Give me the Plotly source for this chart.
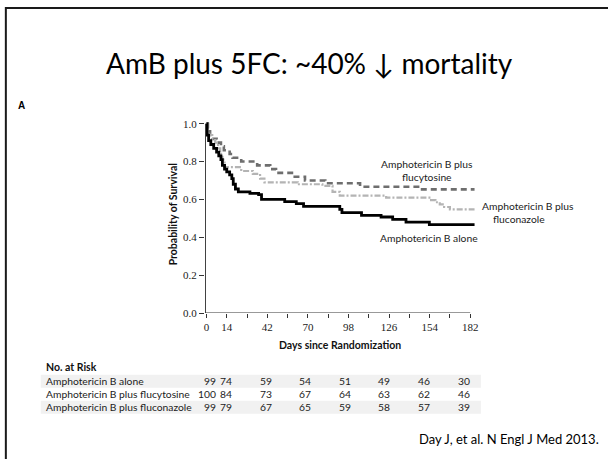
import plotly.graph_objects as go

# ---------------- data ----------------
series_names = ["Amphotericin B alone", "Amphotericin B plus flucytosine", "Amphotericin B plus fluconazole"]

days_alone = [0, 0.5, 1.5, 3, 5, 7, 8.5, 10, 11, 12.5, 14, 16, 17.5, 18.5, 20, 22, 30, 36, 38, 54, 62, 67,
              92, 93.5, 107, 120.5, 128.5, 137.7, 153.8, 185]
surv_alone = [1.0, 0.94, 0.91, 0.89, 0.87, 0.85, 0.83, 0.81, 0.78, 0.76, 0.745, 0.73, 0.71, 0.68, 0.655, 0.64,
              0.632, 0.625, 0.60, 0.588, 0.578, 0.563, 0.547, 0.53, 0.516, 0.507, 0.495, 0.48, 0.467, 0.467]

days_5fc = [0, 1, 2.5, 4, 7, 10, 12, 16, 18, 24, 35, 44, 48, 60, 68, 82, 106, 147, 185]
surv_5fc = [1.0, 0.96, 0.94, 0.92, 0.90, 0.88, 0.86, 0.84, 0.82, 0.80, 0.78, 0.76, 0.74, 0.72, 0.70, 0.685,
            0.667, 0.653, 0.653]

days_flu = [0, 1, 2, 4, 6, 8, 9.5, 11, 12.5, 24, 32, 37, 40, 63, 80, 87, 92, 124, 155, 158, 161, 164, 168, 185]
surv_flu = [1.0, 0.96, 0.94, 0.92, 0.90, 0.87, 0.84, 0.81, 0.77, 0.75, 0.735, 0.71, 0.69, 0.68, 0.672, 0.64,
            0.62, 0.609, 0.596, 0.585, 0.574, 0.56, 0.547, 0.547]

x_tick_vals = [0, 14, 28, 42, 56, 70, 84, 98, 112, 126, 140, 154, 168, 182]
x_tick_text = ["0", "14", "", "42", "", "70", "", "98", "", "126", "", "154", "", "182"]
y_tick_vals = [0.0, 0.2, 0.4, 0.6, 0.8, 1.0]
y_tick_text = ["0.0", "0.2", "0.4", "0.6", "0.8", "1.0"]

risk_days = [0, 14, 42, 70, 98, 126, 154, 182]
risk_alone = [99, 74, 59, 54, 51, 49, 46, 30]
risk_5fc = [100, 84, 73, 67, 64, 63, 62, 46]
risk_flu = [99, 79, 67, 65, 59, 58, 57, 39]

title_text = "AmB plus 5FC: ~40% \u2193 mortality"
citation = "Day J, et al. N Engl J Med 2013."

# ---------------- geometry helpers ----------------
FIG_W, FIG_H = 608, 459
L, T = 204.55, 117.8
W, H = 271.55, 195.7
R = FIG_W - L - W
B = FIG_H - T - H


def px(x):
    return (x - L) / W


def py(y):
    return 1 - (y - T) / H


NARROW = "Lato, sans-serif"
SERIF = "Liberation Serif, Times New Roman, serif"
SLIDE = "Lato, Carlito, Calibri, sans-serif"
SMALL = 10.3

fig = go.Figure()

fig.add_trace(go.Scatter(x=days_5fc, y=surv_5fc, mode="lines", line_shape="hv",
                         line=dict(color="#6e6e6e", width=2.6, dash="6px,4px"),
                         name=series_names[1], showlegend=False))
fig.add_trace(go.Scatter(x=days_flu, y=surv_flu, mode="lines", line_shape="hv",
                         line=dict(color="#b4b4b4", width=2.2, dash="6px,2px,2px,2px"),
                         name=series_names[2], showlegend=False))
fig.add_trace(go.Scatter(x=days_alone, y=surv_alone, mode="lines", line_shape="hv",
                         line=dict(color="#000000", width=2.8),
                         name=series_names[0], showlegend=False))

shapes = []
# slide frame (top and left)
shapes.append(dict(type="line", xref="paper", yref="paper", x0=px(5), x1=px(610), y0=py(7.5), y1=py(7.5),
                   line=dict(color="#1a1a1a", width=2)))
shapes.append(dict(type="line", xref="paper", yref="paper", x0=px(5), x1=px(5), y0=py(6.5), y1=py(462),
                   line=dict(color="#1a1a1a", width=2)))
# axis lines
shapes.append(dict(type="line", xref="x", yref="y", x0=-0.7, x1=-0.7, y0=0, y1=1.0,
                   line=dict(color="#333333", width=1)))
shapes.append(dict(type="line", xref="x", yref="y", x0=-0.7, x1=182, y0=0, y1=0,
                   line=dict(color="#333333", width=1)))
# table row bands
for yc in (382, 408):
    shapes.append(dict(type="rect", xref="paper", yref="paper", x0=px(40), x1=px(481),
                       y0=py(yc - 6.5), y1=py(yc + 6.5), fillcolor="#f1f1f1", line=dict(width=0),
                       layer="below"))

ann = []
ann.append(dict(text=title_text, xref="paper", yref="paper", x=px(309), y=py(62.5), showarrow=False,
                xanchor="center", yanchor="middle", font=dict(family=SLIDE, size=28, color="#000")))
ann.append(dict(text="<b>A</b>", xref="paper", yref="paper", x=px(15), y=py(105), showarrow=False,
                xanchor="left", yanchor="middle", font=dict(family="Liberation Sans, Arial", size=10, color="#000")))
ann.append(dict(text="<b>Probability of Survival</b>", xref="paper", yref="paper", x=px(172), y=py(215),
                showarrow=False, textangle=-90, xanchor="center", yanchor="middle",
                font=dict(family=NARROW, size=10.5, color="#111")))
ann.append(dict(text="<b>Days since Randomization</b>", xref="paper", yref="paper", x=px(340), y=py(346),
                showarrow=False, xanchor="center", yanchor="middle",
                font=dict(family=NARROW, size=10.5, color="#111")))
# curve labels
ann.append(dict(text="Amphotericin B plus<br>flucytosine", xref="paper", yref="paper", x=px(427), y=py(170.5),
                showarrow=False, xanchor="center", yanchor="middle", align="center",
                font=dict(family=NARROW, size=SMALL, color="#222")))
ann.append(dict(text="Amphotericin B plus", xref="paper", yref="paper", x=px(480), y=py(206),
                showarrow=False, xanchor="left", yanchor="middle",
                font=dict(family=NARROW, size=SMALL, color="#222")))
ann.append(dict(text="fluconazole", xref="paper", yref="paper", x=px(491), y=py(219),
                showarrow=False, xanchor="left", yanchor="middle",
                font=dict(family=NARROW, size=SMALL, color="#222")))
ann.append(dict(text="Amphotericin B alone", xref="paper", yref="paper", x=px(429), y=py(238),
                showarrow=False, xanchor="center", yanchor="middle",
                font=dict(family=NARROW, size=SMALL, color="#222")))
# at-risk table
ann.append(dict(text="<b>No. at Risk</b>", xref="paper", yref="paper", x=px(43), y=py(368), showarrow=False,
                xanchor="left", yanchor="middle", font=dict(family=NARROW, size=10.5, color="#111")))
row_ys = [382, 395, 408]
for name, counts, yc in zip(series_names, [risk_alone, risk_5fc, risk_flu], row_ys):
    ann.append(dict(text=name, xref="paper", yref="paper", x=px(43), y=py(yc), showarrow=False,
                    xanchor="left", yanchor="middle", font=dict(family=NARROW, size=SMALL, color="#222")))
    for i, (d, c) in enumerate(zip(risk_days, counts)):
        if i == 0:
            ann.append(dict(text=str(c), xref="x", yref="paper", x=d + 7.8, y=py(yc), showarrow=False,
                            xanchor="right", yanchor="middle", font=dict(family=NARROW, size=SMALL, color="#222")))
        else:
            ann.append(dict(text=str(c), xref="x", yref="paper", x=d * 0.975, y=py(yc), showarrow=False,
                            xanchor="center", yanchor="middle", font=dict(family=NARROW, size=SMALL, color="#222")))
ann.append(dict(text=citation, xref="paper", yref="paper", x=px(601), y=py(440), showarrow=False,
                xanchor="right", yanchor="middle", font=dict(family=SLIDE, size=13, color="#000")))

fig.update_layout(
    width=FIG_W, height=FIG_H, autosize=False,
    margin=dict(l=L, r=R, t=T, b=B, pad=0),
    paper_bgcolor="white", plot_bgcolor="white",
    shapes=shapes, annotations=ann,
    xaxis=dict(range=[-1, 186], tickmode="array", tickvals=x_tick_vals, ticktext=x_tick_text,
               ticks="outside", ticklen=4, tickcolor="#333", tickwidth=1, showline=False, showgrid=False,
               zeroline=False, tickfont=dict(family=SERIF, size=11, color="#222")),
    yaxis=dict(range=[0, 1.03], tickmode="array", tickvals=y_tick_vals, ticktext=y_tick_text,
               ticks="outside", ticklen=5, tickcolor="#333", tickwidth=1, showline=False, showgrid=False,
               zeroline=False, tickfont=dict(family=SERIF, size=11, color="#222")),
)

fig.write_html("out.html", config={"displayModeBar": False},
               post_script="document.body.style.margin='0';")
